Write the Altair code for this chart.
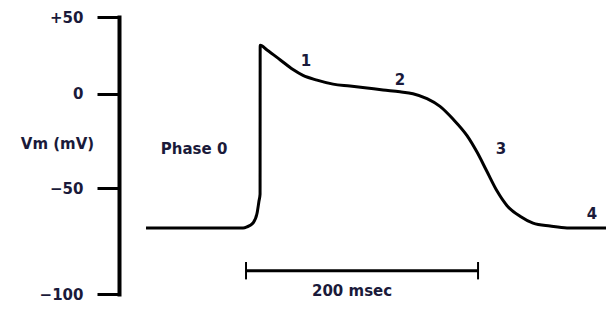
import altair as alt
import pandas as pd

# Action potential trace (time in ms, membrane potential in mV)
time_ms = [-96.7, -13.1, -9.7, -4.5, -1.0, 0.7, 1.6, 1.7, 7.6, 18.8, 30.0, 38.6, 50.7, 64.5,
           79.1, 93.8, 107.6, 122.2, 133.4, 145.5, 156.7, 167.9, 180.0, 188.6, 197.2, 205.9,
           214.5, 225.7, 236.9, 251.6, 266.2, 305.0]
vm_mv = [-68.8, -68.8, -68.3, -66.5, -61.9, -56.0, -52.8, 31.6, 28.5, 22.2, 15.8, 12.0, 8.9, 6.3,
         5.1, 3.8, 2.5, 1.3, 0.0, -2.6, -6.7, -13.4, -22.2, -30.9, -41.2, -51.4,
         -58.3, -63.3, -66.5, -67.9, -68.8, -68.8]

# Phase annotations
ann_text = ["Phase 0", "1", "2", "3", "4"]
ann_t = [-55.3, 41.2, 122.2, 209.3, 287.8]
ann_v = [-29.4, 21.5, 8.9, -29.4, -62.4]

# Scale bar (200 msec)
bar_start = -10.5
bar_end = 189.5
bar_v = -89.0
bar_cap_top = -84.9
bar_cap_bottom = -93.1
bar_label = "200 msec"
bar_label_t = 80.9
bar_label_v = -98.6

y_ticks = [-100, -50, 0, 50]

NAVY = "#1a1a3a"
FONT = "DejaVu Sans"

trace = pd.DataFrame({"t": time_ms, "v": vm_mv, "order": list(range(len(time_ms)))})
ann = pd.DataFrame({"label": ann_text, "t": ann_t, "v": ann_v})
bar = pd.DataFrame({"t": [bar_start], "t2": [bar_end], "v": [bar_v]})
caps = pd.DataFrame({"t": [bar_start, bar_end], "v": [bar_cap_top] * 2, "v2": [bar_cap_bottom] * 2})
barlab = pd.DataFrame({"label": [bar_label], "t": [bar_label_t], "v": [bar_label_v]})

xs = alt.Scale(domain=[-120, 299.8])
ys = alt.Scale(domain=[-100, -50, 0, 50], range=[277, 171.1, 76.8, 0])

yaxis = alt.Axis(
    values=y_ticks,
    labelExpr="datum.value > 0 ? '+' + datum.label : datum.label",
    grid=False,
    domainColor="black", domainWidth=4, domainCap="square",
    tickColor="black", tickWidth=3, tickSize=22,
    labelFont=FONT, labelFontWeight="bold", labelFontSize=15, labelColor=NAVY,
    labelPadding=14,
    title="Vm (mV)", titleAngle=0, titleX=-62, titleY=126,
    titleAlign="center", titleBaseline="middle",
    titleFont=FONT, titleFontWeight="bold", titleFontSize=15, titleColor=NAVY,
)

line = alt.Chart(trace).mark_line(color="black", strokeWidth=3, interpolate="monotone").encode(
    x=alt.X("t:Q", scale=xs, axis=None),
    y=alt.Y("v:Q", scale=ys, axis=yaxis),
    order="order:Q",
)

labels = alt.Chart(ann).mark_text(font=FONT, fontWeight="bold", fontSize=15, color=NAVY,
                                  align="center", baseline="middle").encode(
    x=alt.X("t:Q", scale=xs), y=alt.Y("v:Q", scale=ys), text="label:N")

bar_rule = alt.Chart(bar).mark_rule(color="black", strokeWidth=3).encode(
    x=alt.X("t:Q", scale=xs), x2="t2:Q", y=alt.Y("v:Q", scale=ys))

cap_rule = alt.Chart(caps).mark_rule(color="black", strokeWidth=2).encode(
    x=alt.X("t:Q", scale=xs), y=alt.Y("v:Q", scale=ys), y2="v2:Q")

bar_text = alt.Chart(barlab).mark_text(font=FONT, fontWeight="bold", fontSize=15, color=NAVY,
                                       align="center", baseline="middle").encode(
    x=alt.X("t:Q", scale=xs), y=alt.Y("v:Q", scale=ys), text="label:N")

chart = alt.layer(line, labels, bar_rule, cap_rule, bar_text).properties(
    width=487, height=277,
    autosize=alt.AutoSizeParams(type="none"),
    padding={"left": 111, "top": 9, "right": 0, "bottom": 9},
    background="white",
).configure_view(strokeWidth=0)

chart.save("out.html", embed_options={"renderer": "svg", "actions": False})
